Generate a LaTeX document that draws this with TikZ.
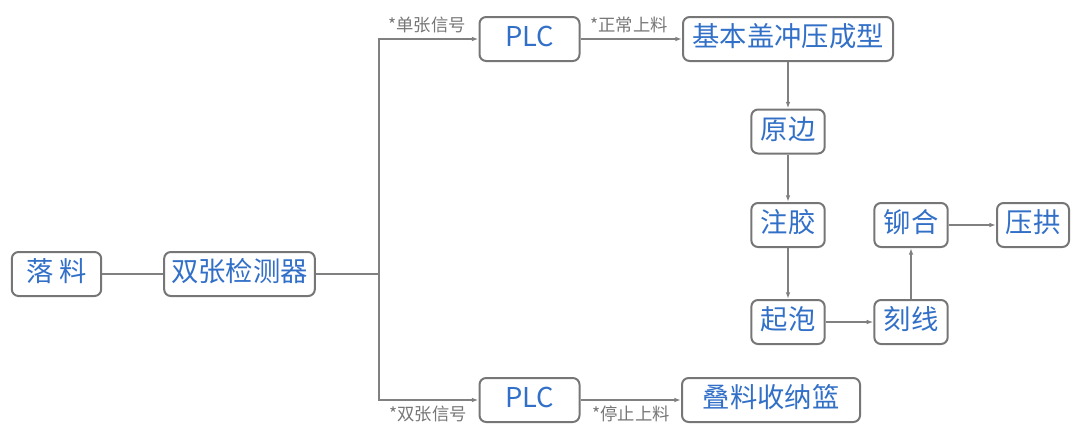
\documentclass[tikz,border=0pt]{standalone}
\usepackage{fontspec}
\setmainfont{Noto Sans CJK SC}
\usetikzlibrary{arrows.meta}
\definecolor{boxgray}{RGB}{118,118,118}
\definecolor{linegray}{RGB}{128,128,128}
\definecolor{txtblue}{RGB}{50,112,200}
\definecolor{lblgray}{RGB}{118,118,118}

\begin{document}
\begin{tikzpicture}[x=0.75pt,y=-0.75pt,
	box/.style={draw=boxgray, line width=1.5pt, rounded corners=5pt, text=txtblue,
		font=\fontsize{20.5}{24}\selectfont, minimum height=33pt, inner sep=0pt,
		text height=1.15em, text depth=0em},
	lbl/.style={text=lblgray, font=\fontsize{13}{15}\selectfont, inner sep=0pt,
		text height=1.1em, text depth=0em},
	link/.style={draw=linegray, line width=1.1pt},
	flow/.style={link, -{Latex[length=5pt,width=3.5pt]}}]
	
	\useasboundingbox (0,0) rectangle (1080,446);
	
	\coordinate (split) at (379,274);
	
	\node[box, minimum width=67pt] (luoliao) at (56.5,274) {落 料};
	\node[box, minimum width=113pt] (jiance) at (239.5,274) {双张检测器};
	\node[box, minimum width=75pt] (plcA) at (529.5,39) {PLC};
	\node[box, minimum width=75pt] (plcB) at (529.5,400) {PLC};
	\node[box, minimum width=157.5pt] (chongya) at (788,39) {基本盖冲压成型};
	\node[box, minimum width=55pt] (yuanbian) at (788,131.5) {原边};
	\node[box, minimum width=55pt] (zhujiao) at (788,225) {注胶};
	\node[box, minimum width=55pt] (qipao) at (788,322) {起泡};
	\node[box, minimum width=55pt] (kexian) at (911,322) {刻线};
	\node[box, minimum width=55pt] (maohe) at (911,225) {铆合};
	\node[box, minimum width=54pt] (yagong) at (1033,225) {压拱};
	\node[box, minimum width=133.5pt] (dieliao) at (771,400) {叠料收纳篮};
	
	\node[lbl] (danzhang) at (427,24) {*单张信号};
	\node[lbl] (zhengchang) at (629,24) {*正常上料};
	\node[lbl] (shuangzhang) at (428,413) {*双张信号};
	\node[lbl] (tingzhi) at (631,413) {*停止上料};
	
	\draw[link] (luoliao) -- (jiance);
	\draw[link] (jiance) -- (split);
	\draw[flow] (split) |- (plcA);
	\draw[flow] (split) |- (plcB);
	\draw[flow] (plcA) -- (chongya);
	\draw[flow] (plcB) -- (dieliao);
	\draw[flow] (chongya) -- (yuanbian);
	\draw[flow] (yuanbian) -- (zhujiao);
	\draw[flow] (zhujiao) -- (qipao);
	\draw[flow] (qipao) -- (kexian);
	\draw[flow] (kexian) -- (maohe);
	\draw[flow] (maohe) -- (yagong);
	
\end{tikzpicture}
\end{document}
